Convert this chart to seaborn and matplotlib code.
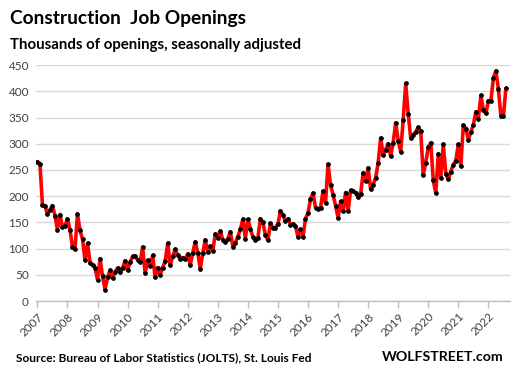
import matplotlib
matplotlib.use("Agg")
import matplotlib.pyplot as plt
import seaborn as sns
import numpy as np
import pandas as pd

# Monthly construction job openings (thousands), Jan 2007 - Aug 2022
y2007 = [266, 262, 184, 182, 166, 174, 182, 163, 136, 165, 141, 144]
y2008 = [157, 136, 103, 100, 166, 135, 118, 78, 110, 73, 69, 64]
y2009 = [40, 81, 47, 22, 45, 59, 44, 56, 63, 55, 63, 77]
y2010 = [59, 74, 85, 85, 79, 74, 103, 53, 78, 67, 87, 45]
y2011 = [64, 50, 64, 76, 110, 68, 85, 99, 87, 81, 83, 80]
y2012 = [90, 68, 92, 113, 92, 61, 91, 117, 93, 105, 96, 128]
y2013 = [120, 134, 116, 112, 119, 132, 104, 111, 123, 137, 156, 119]
y2014 = [156, 138, 122, 116, 121, 157, 150, 126, 116, 148, 140, 140]
y2015 = [147, 172, 164, 152, 157, 146, 147, 143, 123, 137, 123, 157]
y2016 = [168, 194, 206, 178, 176, 178, 210, 187, 261, 221, 203, 182]
y2017 = [159, 190, 172, 207, 171, 211, 210, 207, 198, 204, 244, 228]
y2018 = [254, 213, 222, 235, 263, 311, 279, 289, 300, 276, 302, 340]
y2019 = [306, 285, 346, 415, 357, 311, 317, 323, 331, 324, 241, 264]
y2020 = [293, 302, 230, 206, 281, 235, 299, 243, 232, 247, 260, 268]
y2021 = [299, 257, 336, 329, 308, 322, 336, 361, 348, 392, 365, 358]
y2022 = [382, 382, 425, 439, 404, 353, 353, 406]

years = list(range(2007, 2023))
year_labels = [str(y) for y in years]
y_ticks = [0, 50, 100, 150, 200, 250, 300, 350, 400, 450]

values = (y2007 + y2008 + y2009 + y2010 + y2011 + y2012 + y2013 + y2014 +
          y2015 + y2016 + y2017 + y2018 + y2019 + y2020 + y2021 + y2022)
df = pd.DataFrame({"month": np.arange(len(values)), "openings": values})

sns.set_theme(style="white")
plt.rcParams["font.family"] = ["Lato", "DejaVu Sans"]

fig = plt.figure(figsize=(5.13, 3.74), dpi=100)
ax = fig.add_axes([0.070, 0.195, 0.924, 0.631])

sns.lineplot(data=df, x="month", y="openings", ax=ax, color="#FF0000",
             linewidth=2.6, marker="o", markersize=2.6,
             markerfacecolor="black", markeredgecolor="black", zorder=3)

ax.set_ylim(0, 450)
ax.set_xlim(-0.6, len(values) + 0.6)
ax.set_yticks(y_ticks)
ax.set_yticklabels([str(v) for v in y_ticks], fontsize=8.5, color="#404040")
ax.set_xticks([12 * i for i in range(len(years))])
ax.set_xticklabels(year_labels, rotation=45, ha="right", rotation_mode="anchor",
                   fontsize=8.5, color="#404040")
ax.yaxis.grid(True, color="#D9D9D9", linewidth=1.0)
ax.set_axisbelow(True)
for s in ["top", "right", "left"]:
    ax.spines[s].set_visible(False)
ax.spines["bottom"].set_color("#BFBFBF")
ax.spines["bottom"].set_linewidth(1.0)
ax.tick_params(axis="x", which="both", bottom=True, length=5, width=1,
               color="#BFBFBF", pad=2)
ax.tick_params(axis="y", length=0, pad=5)
ax.set_xlabel("")
ax.set_ylabel("")

fig.text(0.019, 0.935, "Construction  Job Openings", fontsize=13.8,
         fontweight="bold", color="black", va="baseline")
fig.text(0.019, 0.868, "Thousands of openings, seasonally adjusted", fontsize=10.8,
         fontweight="bold", color="black", va="baseline")
fig.text(0.031, 0.035, "Source: Bureau of Labor Statistics (JOLTS), St. Louis Fed",
         fontsize=8.6, fontweight="bold", color="black", va="baseline")
fig.text(0.981, 0.035, "WOLFSTREET.com", fontsize=10.2, fontweight="bold",
         color="black", ha="right", va="baseline")

fig.savefig("out.png", dpi=100)
